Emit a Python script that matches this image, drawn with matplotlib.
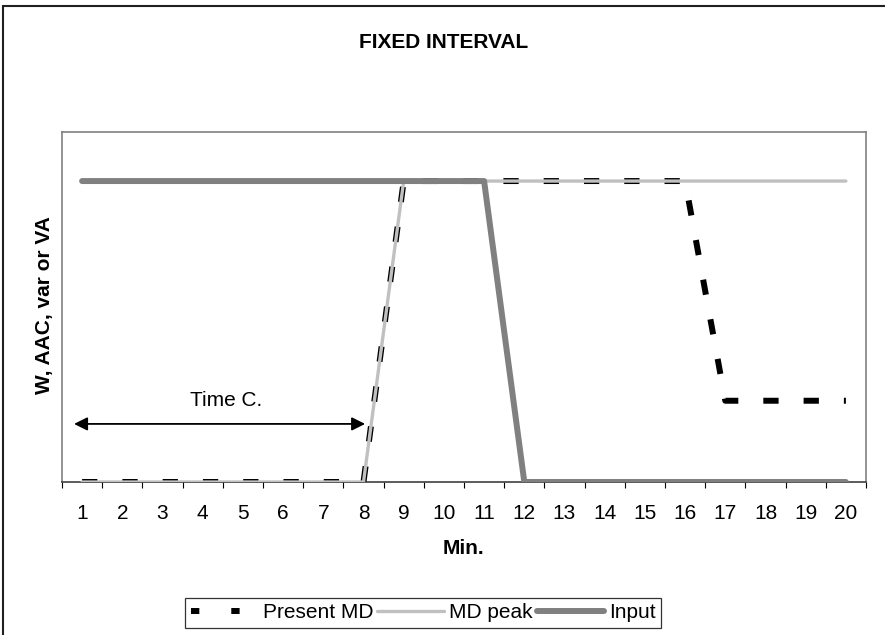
import matplotlib.pyplot as plt
from matplotlib.lines import Line2D
from matplotlib.patches import Rectangle

plt.rcParams['font.family'] = ['Liberation Sans', 'DejaVu Sans']
plt.rcParams['lines.scale_dashes'] = False

minutes = list(range(1, 21))
present_md = [0] * 8 + [1] * 8 + [0.27] * 4
md_peak = [0] * 8 + [1] * 12
input_sig = [1] * 11 + [0] * 9

FS = 15
W, H = 885, 635
fig = plt.figure(figsize=(W / 100, H / 100), dpi=100)
ax = fig.add_axes([62 / W, 1 - 482 / H, (866 - 62) / W, (482 - 132) / H])

# outer frame (cut off on right/bottom like the source)
fig.patches.append(Rectangle((3 / W, -0.05), 1.1, 1 - 6 / H + 0.05, transform=fig.transFigure,
                             fill=False, edgecolor='#202020', linewidth=1.5))

ax.plot(minutes, present_md, color='black', lw=4.3, linestyle=(0, (11, 18)),
        dash_capstyle='butt', zorder=3)
ax.plot(minutes, md_peak, color='#c0c0c0', lw=2.4, solid_capstyle='round', zorder=4)
ax.plot(minutes, input_sig, color='#808080', lw=4.3, solid_capstyle='round', zorder=5)

ax.set_xlim(0.5, 20.5)
ax.set_ylim(0, 1.163)
ax.set_yticks([])
ax.set_xticks(minutes)
ax.set_xticklabels([str(m) for m in minutes], fontsize=FS)
ax.set_xticks([m + 0.5 for m in range(0, 21)], minor=True)
ax.tick_params(axis='x', which='major', length=0, pad=16)
ax.tick_params(axis='x', which='minor', length=4.5, width=0.8, direction='out', color='black')
for s in ax.spines.values():
    s.set_color('#808080')
    s.set_linewidth(1.2)
ax.spines['bottom'].set_color('#404040')

ax.annotate('', xy=(0.80, 0.193), xytext=(8.04, 0.193),
            arrowprops=dict(arrowstyle='<|-|>', color='black', lw=1.3,
                            mutation_scale=20, shrinkA=0, shrinkB=0))
ax.text(4.58, 0.272, 'Time C.', ha='center', va='center', fontsize=FS)

fig.text(444 / W, 1 - 43 / H, 'FIXED INTERVAL', ha='center', va='center',
         fontsize=FS, fontweight='bold')
fig.text(463 / W, 1 - 548 / H, 'Min.', ha='center', va='center',
         fontsize=FS, fontweight='bold')
fig.text(45 / W, 1 - 305 / H, 'W, AAC, var or VA', ha='center', va='center',
         rotation=90, fontsize=FS, fontweight='bold')

handles = [
    Line2D([], [], color='black', lw=4.3, linestyle=(0, (6, 23))),
    Line2D([], [], color='#c0c0c0', lw=2.4, solid_capstyle='round'),
    Line2D([], [], color='#808080', lw=4.3, solid_capstyle='round'),
]
leg = fig.legend(handles, ['Present MD', 'MD peak', 'Input'], loc='center',
                 bbox_to_anchor=(423 / W, 1 - 613 / H), ncol=3, fontsize=FS,
                 frameon=True, fancybox=False, edgecolor='black',
                 handlelength=3.2, handletextpad=0.25, columnspacing=0.2,
                 borderpad=0.25, borderaxespad=0)
leg.get_frame().set_linewidth(0.9)

fig.savefig('out.png', dpi=100)
